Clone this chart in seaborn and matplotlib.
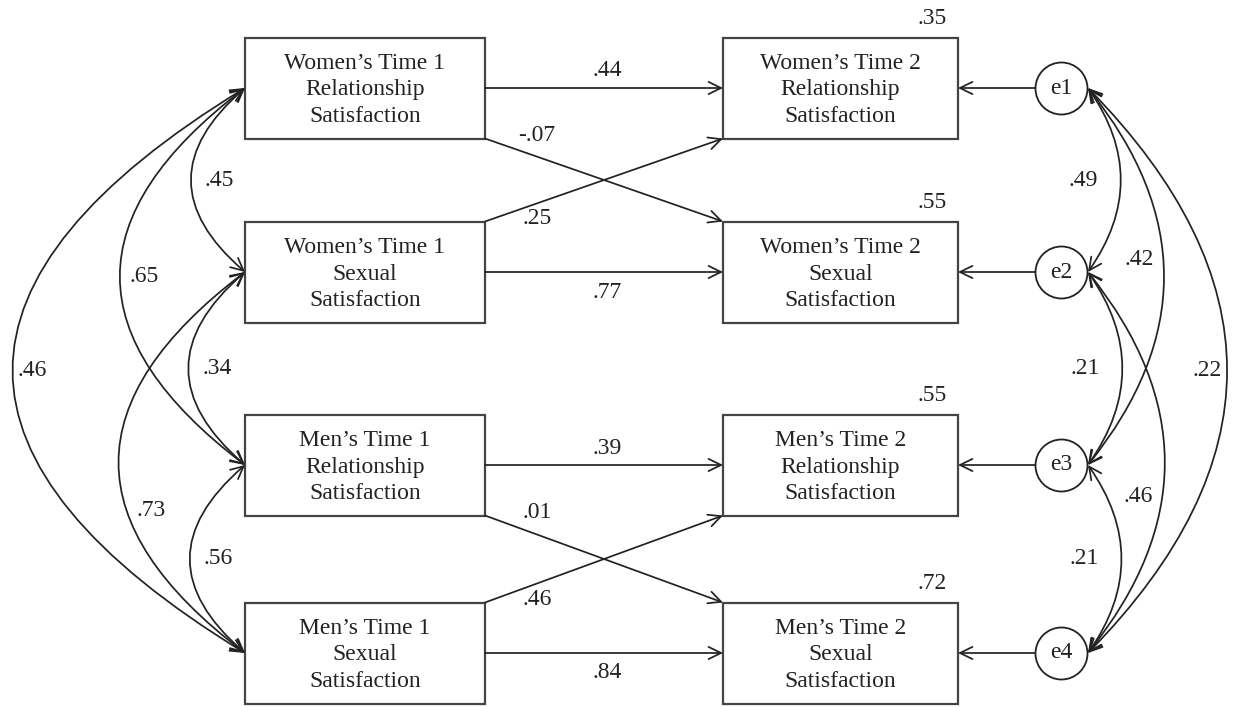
import matplotlib
matplotlib.use("Agg")
import matplotlib.pyplot as plt
from matplotlib.patches import Rectangle, FancyArrowPatch
import pandas as pd
import seaborn as sns

# ---- model values ----
t1_labels = [
    "Women\u2019s Time 1\nRelationship\nSatisfaction",
    "Women\u2019s Time 1\nSexual\nSatisfaction",
    "Men\u2019s Time 1\nRelationship\nSatisfaction",
    "Men\u2019s Time 1\nSexual\nSatisfaction",
]
t2_labels = [
    "Women\u2019s Time 2\nRelationship\nSatisfaction",
    "Women\u2019s Time 2\nSexual\nSatisfaction",
    "Men\u2019s Time 2\nRelationship\nSatisfaction",
    "Men\u2019s Time 2\nSexual\nSatisfaction",
]
error_labels = ["e1", "e2", "e3", "e4"]

stability = [.44, .77, .39, .84]          # T1 row i -> T2 row i
cross_src = [0, 1, 2, 3]
cross_dst = [1, 0, 3, 2]
cross_coef = [-.07, .25, .01, .46]
r_squared = [.35, .55, .55, .72]

t1_cov_a = [0, 1, 2, 0, 1, 0]
t1_cov_b = [1, 2, 3, 2, 3, 3]
t1_cov = [.45, .34, .56, .65, .73, .46]

err_cov_a = [0, 1, 2, 0, 1, 0]
err_cov_b = [1, 2, 3, 2, 3, 3]
err_cov = [.49, .21, .21, .42, .46, .22]

# ---- layout (pixels, y down) ----
W, H = 1233, 707
ROW_Y = [88, 272, 465, 653]
BOX_H = 101
X_T1, W_T1 = 245, 240
X_T2, W_T2 = 723, 235
E_X, E_R = 1061, 26
LEFT_RAD = {1: 0.58, 2: 0.66, 3: 0.82}
LEFT_DX = {1: 28, 2: 24, 3: 19}
RIGHT_RAD = {1: 0.35, 2: 0.40, 3: 0.49}
RIGHT_DX = {1: -37, 2: -24, 3: -19}
t1_label_t = [.5, .5, .5, .5, .625, .5]
err_label_t = [.5, .5, .5, .456, .59, .5]

INK = "#222222"
FONT = ["Liberation Serif", "DejaVu Serif"]
FS = 17


def fmt(v):
    s = f"{v:.2f}"
    return s.replace("0.", ".", 1)


def arrow(ax, p0, p1, style="->", rad=0.0):
    ax.add_patch(FancyArrowPatch(
        p0, p1, arrowstyle=f"{style},head_length=0.45,head_width=0.22",
        mutation_scale=20, connectionstyle=f"arc3,rad={rad}",
        color=INK, lw=1.25, shrinkA=0, shrinkB=0))


def bez_x(x, ya, yb, rad, t):
    # quadratic bezier used by arc3 for a vertical pair of end points
    cx = x - rad * (yb - ya)
    return (1 - t) ** 2 * x + 2 * t * (1 - t) * cx + t ** 2 * x, ya + t * (yb - ya)


sns.set_theme(style="white")
plt.rcParams["font.family"] = FONT

fig = plt.figure(figsize=(W / 100, H / 100), dpi=100)
ax = fig.add_axes([0, 0, 1, 1])
ax.set_xlim(0, W)
ax.set_ylim(H, 0)
ax.axis("off")

# boxes
for col_x, col_w, labels in [(X_T1, W_T1, t1_labels), (X_T2, W_T2, t2_labels)]:
    for y, lab in zip(ROW_Y, labels):
        ax.add_patch(Rectangle((col_x, y - BOX_H / 2), col_w, BOX_H,
                               fill=False, ec="#444444", lw=1.6))
        ax.text(col_x + col_w / 2, y + 2, lab, ha="center", va="center",
                fontsize=FS, color=INK, linespacing=1.33)

# stability paths
for i, b in enumerate(stability):
    y = ROW_Y[i]
    arrow(ax, (X_T1 + W_T1, y), (X_T2, y))
    dy = -17 if i % 2 == 0 else 20
    ax.text((X_T1 + W_T1 + X_T2) / 2 + 3, y + dy, fmt(b), ha="center",
            va="center", fontsize=FS, color=INK)

# cross-lagged paths
for s, d, b in zip(cross_src, cross_dst, cross_coef):
    ys = ROW_Y[s] + (BOX_H / 2 if d > s else -BOX_H / 2)
    yd = ROW_Y[d] + (-BOX_H / 2 if d > s else BOX_H / 2)
    arrow(ax, (X_T1 + W_T1, ys), (X_T2, yd))
    ax.text(X_T1 + W_T1 + 52, ys - 3, fmt(b), ha="center", va="center",
            fontsize=FS, color=INK)

# R squared
for y, r in zip(ROW_Y, r_squared):
    ax.text(X_T2 + W_T2 - 26, y - BOX_H / 2 - 19, fmt(r), ha="center",
            va="center", fontsize=FS, color=INK)

# error terms
err_df = pd.DataFrame({"x": [E_X] * 4, "y": ROW_Y, "name": error_labels})
sns.scatterplot(data=err_df, x="x", y="y", ax=ax, s=(2 * E_R * 0.72) ** 2,
                color="white", edgecolor=INK, linewidth=1.3, zorder=3)
for _, row in err_df.iterrows():
    ax.text(row.x, row.y, row["name"], ha="center", va="center",
            fontsize=FS, color=INK, zorder=4)
    arrow(ax, (row.x - E_R, row.y), (X_T2 + W_T2, row.y))

# T1 covariances
for a, b, r, t in zip(t1_cov_a, t1_cov_b, t1_cov, t1_label_t):
    span = b - a
    rad = LEFT_RAD[span]
    arrow(ax, (X_T1, ROW_Y[a]), (X_T1, ROW_Y[b]), style="<->", rad=rad)
    lx, ly = bez_x(X_T1, ROW_Y[a], ROW_Y[b], rad, t)
    ax.text(lx + LEFT_DX[span], ly, fmt(r), ha="center", va="center",
            fontsize=FS, color=INK)

# error covariances
ex = E_X + E_R + 1
for a, b, r, t in zip(err_cov_a, err_cov_b, err_cov, err_label_t):
    span = b - a
    rad = RIGHT_RAD[span]
    arrow(ax, (ex, ROW_Y[a]), (ex, ROW_Y[b]), style="<->", rad=-rad)
    lx, ly = bez_x(ex, ROW_Y[a], ROW_Y[b], -rad, t)
    ax.text(lx + RIGHT_DX[span], ly, fmt(r), ha="center", va="center",
            fontsize=FS, color=INK)

fig.savefig("out.png", dpi=100, facecolor="white")
